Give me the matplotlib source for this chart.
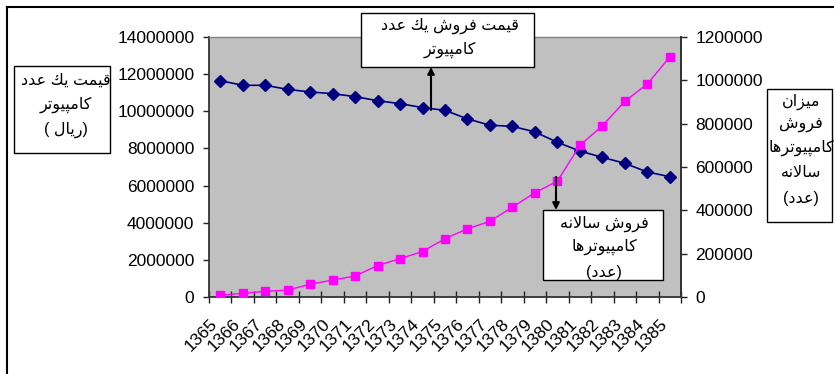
import matplotlib
matplotlib.use('Agg')
import matplotlib.pyplot as plt
import matplotlib.transforms as mtransforms
from matplotlib.patches import Rectangle, FancyArrowPatch
from matplotlib.lines import Line2D

plt.rcParams['font.family'] = ['Liberation Sans', 'DejaVu Sans']

years = [str(y) for y in range(1365, 1386)]
price = [11650000, 11400000, 11400000, 11180000, 11040000, 10950000, 10790000,
         10570000, 10410000, 10200000, 10050000, 9590000, 9250000, 9190000,
         8890000, 8330000, 7860000, 7520000, 7200000, 6730000, 6480000]
sales = [8000, 17000, 26000, 32000, 59000, 78000, 97000, 145000, 177000, 210000,
         269000, 315000, 349000, 415000, 481000, 535000, 700000, 790000, 903000,
         983000, 1108000]

left_ticks = list(range(0, 14000001, 2000000))
right_ticks = list(range(0, 1200001, 200000))

label_left = ['قيمت يك عدد', 'كامپيوتر', '(ريال )']
label_right = ['ميزان', 'فروش', 'كامپيوترها', 'سالانه', '(عدد)']
note_price = ['قيمت فروش يك عدد', 'كامپيوتر']
note_sales = ['فروش سالانه', 'كامپيوترها', '(عدد)']

# presentation forms: isolated, final, initial, medial (None = no left join)
FORMS = {
    'ا': ('\uFE8D', '\uFE8E', None, None),
    'ب': ('\uFE8F', '\uFE90', '\uFE91', '\uFE92'),
    'ت': ('\uFE95', '\uFE96', '\uFE97', '\uFE98'),
    'د': ('\uFEA9', '\uFEAA', None, None),
    'ر': ('\uFEAD', '\uFEAE', None, None),
    'ز': ('\uFEAF', '\uFEB0', None, None),
    'س': ('\uFEB1', '\uFEB2', '\uFEB3', '\uFEB4'),
    'ش': ('\uFEB5', '\uFEB6', '\uFEB7', '\uFEB8'),
    'ع': ('\uFEC9', '\uFECA', '\uFECB', '\uFECC'),
    'ف': ('\uFED1', '\uFED2', '\uFED3', '\uFED4'),
    'ق': ('\uFED5', '\uFED6', '\uFED7', '\uFED8'),
    'ك': ('\uFED9', '\uFEDA', '\uFEDB', '\uFEDC'),
    'ل': ('\uFEDD', '\uFEDE', '\uFEDF', '\uFEE0'),
    'م': ('\uFEE1', '\uFEE2', '\uFEE3', '\uFEE4'),
    'ن': ('\uFEE5', '\uFEE6', '\uFEE7', '\uFEE8'),
    'ه': ('\uFEE9', '\uFEEA', '\uFEEB', '\uFEEC'),
    'و': ('\uFEED', '\uFEEE', None, None),
    'ي': ('\uFEF1', '\uFEF2', '\uFEF3', '\uFEF4'),
    'پ': ('\uFB56', '\uFB57', '\uFB58', '\uFB59'),
}


def shape(s):
    """Join Arabic letters and turn the line into visual (LTR) order."""
    out = []
    i = 0
    while i < len(s):
        c = s[i]
        if c not in FORMS:
            out.append(c)
            i += 1
            continue
        prev = s[i - 1] if i > 0 else ''
        prev_joins = prev in FORMS and FORMS[prev][2] is not None
        if c == 'ل' and i + 1 < len(s) and s[i + 1] == 'ا':
            out.append('\uFEFC' if prev_joins else '\uFEFB')
            i += 2
            continue
        nxt = s[i + 1] if i + 1 < len(s) else ''
        next_joins = nxt in FORMS and FORMS[c][2] is not None
        f = FORMS[c]
        if prev_joins and next_joins:
            out.append(f[3])
        elif next_joins:
            out.append(f[2])
        elif prev_joins:
            out.append(f[1])
        else:
            out.append(f[0])
        i += 1
    vis = ''.join(reversed(out))
    return vis.translate(str.maketrans('()', ')('))


W, H = 834, 374
fig = plt.figure(figsize=(W / 100, H / 100), dpi=100)


def fx(x):
    return x / W


def fy(y):
    return 1 - y / H


ax = fig.add_axes([fx(209), fy(297), fx(681) - fx(209), fy(37) - fy(297)])
ax.set_facecolor('#C0C0C0')
x = list(range(len(years)))
ax.plot(x, price, color='#000080', lw=1.2, marker='D', markersize=6.5, zorder=3)
ax.set_xlim(-0.5, len(years) - 0.5)
ax.set_ylim(0, 14000000)
ax.set_yticks(left_ticks)
ax.set_yticklabels([str(v) for v in left_ticks])
ax.set_xticks([k - 0.5 for k in range(len(years) + 1)])
ax.set_xticklabels([])
ax.set_xticks(x, minor=True)
ax.set_xticklabels(years, minor=True, rotation=45, ha='right', fontsize=12.5)
shift = mtransforms.ScaledTranslation(-5 / 100, 0, fig.dpi_scale_trans)
for lab in ax.get_xticklabels(minor=True):
    lab.set_transform(lab.get_transform() + shift)
ax.tick_params(axis='x', which='major', direction='inout', length=8, width=1, color='#222222')
ax.tick_params(axis='x', which='minor', length=0, pad=14)
ax.tick_params(axis='y', direction='out', length=4.5, width=1, labelsize=12.5, pad=6, color='#222222')
for side in ['left', 'bottom', 'right']:
    ax.spines[side].set_color('#333333')
    ax.spines[side].set_linewidth(1.3)
ax.spines['top'].set_color('#808080')
ax.spines['top'].set_linewidth(1)

ax2 = ax.twinx()
ax2.plot(x, sales, color='#FF00FF', lw=1, marker='s', markersize=6, zorder=3)
ax2.set_ylim(0, 1200000)
ax2.set_yticks(right_ticks)
ax2.set_yticklabels([str(v) for v in right_ticks])
ax2.tick_params(axis='y', direction='out', length=4.5, width=1, labelsize=12.5, pad=6, color='#222222')
for side in ['left', 'bottom', 'top']:
    ax2.spines[side].set_visible(False)
ax2.spines['right'].set_color('#333333')
ax2.spines['right'].set_linewidth(1.3)

# outer chart frame (left and top edges visible)
fig.add_artist(Line2D([fx(7), fx(7)], [fy(7), 0], color='black', lw=1.5))
fig.add_artist(Line2D([fx(7), 1], [fy(7), fy(7)], color='black', lw=1.5))


def text_box(x0, y0, x1, y1, lines, ys, cx):
    fig.add_artist(Rectangle((fx(x0), fy(y1)), fx(x1) - fx(x0), fy(y0) - fy(y1),
                             transform=fig.transFigure, facecolor='white',
                             edgecolor='black', lw=1, zorder=5))
    for line, yy in zip(lines, ys):
        fig.text(fx(cx), fy(yy), shape(line), ha='center', va='center',
                 fontsize=11.5, zorder=6)


text_box(14, 66, 110, 153, label_left, [80, 105, 130], 66)
text_box(767, 89, 832, 222, label_right, [102, 125, 148, 172, 199], 801)
text_box(361, 13, 534, 67, note_price, [26, 50], 450)
text_box(543, 210, 663, 280, note_sales, [224, 247, 272], 604)

for (x0, y0, x1, y1) in [(431, 110, 431, 67), (556, 177, 556, 210)]:
    fig.add_artist(FancyArrowPatch((fx(x0), fy(y0)), (fx(x1), fy(y1)),
                                   transform=fig.transFigure, arrowstyle='-|>',
                                   mutation_scale=10, color='black', lw=1.5,
                                   shrinkA=0, shrinkB=0, zorder=7))

fig.savefig('out.png', dpi=100)
plt.close(fig)
